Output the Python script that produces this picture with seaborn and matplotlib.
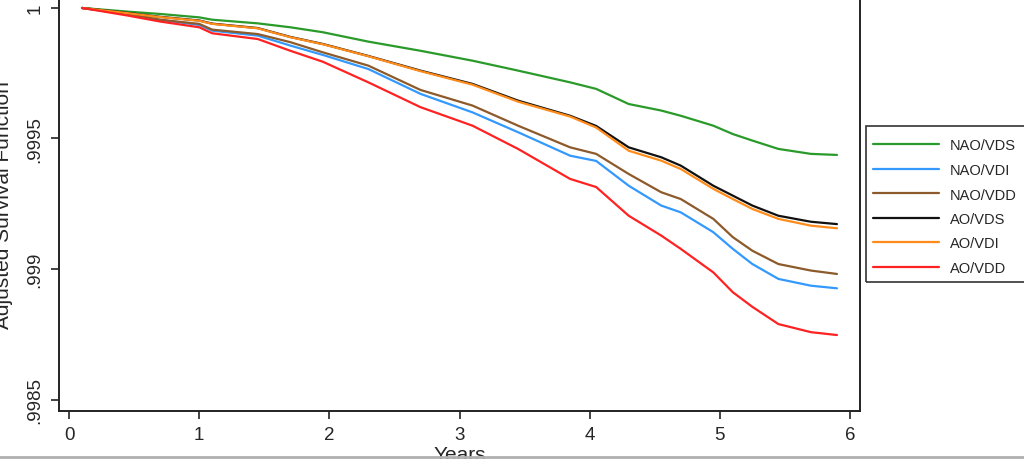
import numpy as np
import pandas as pd
import matplotlib
matplotlib.use("Agg")
import matplotlib.pyplot as plt
import seaborn as sns
from matplotlib.lines import Line2D
from matplotlib.patches import Rectangle

years = [0.1, 0.45, 0.7, 1.0, 1.1, 1.45, 1.7, 1.95, 2.3, 2.7, 3.1, 3.45,
         3.85, 4.05, 4.3, 4.55, 4.7, 4.95, 5.1, 5.25, 5.45, 5.7, 5.9]

nao_vds = [1.0, 0.999986, 0.999977, 0.999964, 0.999955, 0.999941, 0.999926, 0.999907,
           0.999871, 0.999836, 0.999798, 0.999760, 0.999715, 0.999690, 0.999632,
           0.999607, 0.999587, 0.999549, 0.999517, 0.999492, 0.999460, 0.999441, 0.999437]
nao_vdi = [1.0, 0.999976, 0.999954, 0.999935, 0.999913, 0.999894, 0.999856, 0.999820,
           0.999766, 0.999671, 0.999600, 0.999524, 0.999434, 0.999414, 0.999319,
           0.999243, 0.999217, 0.999141, 0.999077, 0.999019, 0.998962, 0.998936, 0.998926]
nao_vdd = [1.0, 0.999977, 0.999955, 0.999939, 0.999917, 0.999900, 0.999869, 0.999830,
           0.999779, 0.999686, 0.999626, 0.999549, 0.999466, 0.999441, 0.999364,
           0.999294, 0.999268, 0.999192, 0.999122, 0.999070, 0.999019, 0.998994, 0.998981]
ao_vds = [1.0, 0.999981, 0.999966, 0.999952, 0.999940, 0.999923, 0.999889, 0.999862,
          0.999816, 0.999760, 0.999709, 0.999645, 0.999587, 0.999548, 0.999466,
          0.999428, 0.999396, 0.999319, 0.999281, 0.999243, 0.999204, 0.999181, 0.999172]
ao_vdi = [1.0, 0.999980, 0.999965, 0.999951, 0.999939, 0.999922, 0.999888, 0.999861,
          0.999815, 0.999758, 0.999706, 0.999641, 0.999584, 0.999542, 0.999453,
          0.999415, 0.999383, 0.999307, 0.999268, 0.999230, 0.999192, 0.999166, 0.999156]
ao_vdd = [1.0, 0.999971, 0.999948, 0.999926, 0.999903, 0.999881, 0.999836, 0.999794,
          0.999715, 0.999620, 0.999549, 0.999460, 0.999345, 0.999314, 0.999204,
          0.999128, 0.999077, 0.998987, 0.998911, 0.998855, 0.998789, 0.998758, 0.998747]

groups = ["NAO/VDS", "NAO/VDI", "NAO/VDD", "AO/VDS", "AO/VDI", "AO/VDD"]
series = [nao_vds, nao_vdi, nao_vdd, ao_vds, ao_vdi, ao_vdd]
colors = ["#2a9a2a", "#3399ff", "#8c5a2b", "#111111", "#ff8c1a", "#ff2222"]

yticks = [0.9985, 0.999, 0.9995, 1.0]
ytick_labels = [".9985", ".999", ".9995", "1"]
xticks = [0, 1, 2, 3, 4, 5, 6]

df = pd.concat([pd.DataFrame({"Years": years, "S": s, "group": g})
                for g, s in zip(groups, series)], ignore_index=True)

sns.set_theme(style="white")
plt.rcParams["font.family"] = ["Liberation Sans", "DejaVu Sans"]

W, H = 1024, 460
fig = plt.figure(figsize=(W / 100, H / 100), dpi=100)
ax = fig.add_axes([59 / W, 48 / H, 801 / W, 414 / H])

sns.lineplot(data=df, x="Years", y="S", hue="group", hue_order=groups,
             palette=dict(zip(groups, colors)), sort=False, linewidth=1.6,
             legend=False, ax=ax)

ax.set_xlim(-0.077, 6.077)
ax.set_ylim(0.998456, 1.000042)
ax.set_xticks(xticks)
ax.set_xticklabels([str(x) for x in xticks], fontsize=13.5)
ax.set_yticks(yticks)
ax.set_yticklabels(ytick_labels, fontsize=13.5, rotation=90, va="center")
ax.tick_params(axis="both", direction="out", length=6, width=1.2, color="#222222",
               left=True, bottom=True, pad=5)
for sp in ax.spines.values():
    sp.set_color("#222222")
    sp.set_linewidth(1.4)

ax.set_xlabel("Years", fontsize=15, labelpad=1)
ax.set_ylabel("Adjusted Survival Function", fontsize=15)
ax.yaxis.set_label_coords(-0.0574, 0.5)

# legend box (extends past the right edge as in the reference)
fig.add_artist(Rectangle((866 / W, 1 - 283 / H), 170 / W, 156 / H,
                         transform=fig.transFigure, fill=False,
                         edgecolor="#333333", linewidth=1.2))
handles = [Line2D([0], [0], color=c, lw=1.6) for c in colors]
fs = 10.5
fig.legend(handles, groups, loc="upper left",
           bbox_to_anchor=(873 / W, 1 - 139.5 / H),
           frameon=False, fontsize=fs, handlelength=4.5, handletextpad=0.75,
           labelspacing=0.72, borderpad=0, borderaxespad=0)

fig.add_artist(Line2D([0, 1], [2.5 / H, 2.5 / H], color="#b0b0b0", lw=2,
                      transform=fig.transFigure))

fig.savefig("out.png", dpi=100)
